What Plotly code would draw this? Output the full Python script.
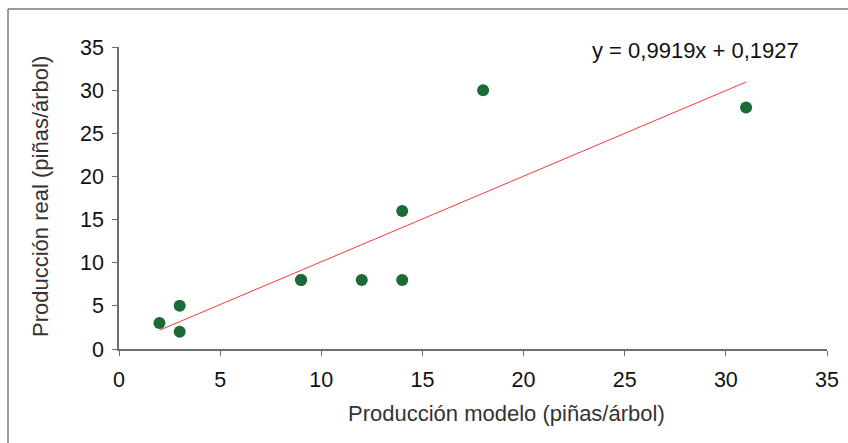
import plotly.graph_objects as go

# Data
modelo = [2, 3, 3, 9, 9, 12, 14, 14, 18, 31]
real = [3, 5, 2, 8, 8, 8, 16, 8, 30, 28]
slope = 0.9919
intercept = 0.1927
x_ticks = [0, 5, 10, 15, 20, 25, 30, 35]
y_ticks = [0, 5, 10, 15, 20, 25, 30, 35]
x_title = "Producción modelo (piñas/árbol)"
y_title = "Producción real (piñas/árbol)"
equation = "y = 0,9919x + 0,1927"

trend_x = [min(modelo), max(modelo)]
trend_y = [slope * v + intercept for v in trend_x]

W, H = 848, 443
ml, mr, mt, mb = 119, 21, 47, 94
pw, ph = W - ml - mr, H - mt - mb
FONT = "Liberation Sans, Arial, sans-serif"

fig = go.Figure()
fig.add_trace(go.Scatter(x=trend_x, y=trend_y, mode="lines",
                         line=dict(color="#f23a3a", width=1), hoverinfo="skip"))
fig.add_trace(go.Scatter(x=modelo, y=real, mode="markers",
                         marker=dict(color="#1a6b35", size=12, line=dict(width=0))))

fig.add_annotation(x=28.5, y=34.6, xref="x", yref="y", showarrow=False,
                   text=equation, font=dict(size=22, color="#111111", family=FONT))

# axis titles as annotations (positioned like the reference)
fig.add_annotation(x=(506 - ml) / pw, y=(349 - 413) / ph, xref="paper", yref="paper",
                   showarrow=False, text=x_title, xanchor="center", yanchor="middle",
                   font=dict(size=22, color="#333333", family=FONT))
fig.add_annotation(x=(40 - ml) / pw, y=(349 - 197) / ph, xref="paper", yref="paper",
                   showarrow=False, text=y_title, textangle=-90, xanchor="center", yanchor="middle",
                   font=dict(size=22, color="#333333", family=FONT))

# partial frame (top and left border lines)
fx = (8 - ml) / pw
fy = 1 + (mt - 9) / ph
fig.add_shape(type="line", xref="paper", yref="paper", x0=fx, x1=1 + mr / pw + 0.01, y0=fy, y1=fy,
              line=dict(color="#7a7a7a", width=1.5))
fig.add_shape(type="line", xref="paper", yref="paper", x0=fx, x1=fx, y0=fy, y1=-mb / ph - 0.01,
              line=dict(color="#7a7a7a", width=1.5))

axis_common = dict(showgrid=False, zeroline=False, showline=True, linecolor="#6e6e6e",
                   linewidth=1.5, ticks="outside", ticklen=5, tickcolor="#6e6e6e",
                   tickwidth=1, tickfont=dict(size=21.5, color="#111111"), automargin=False)
fig.update_xaxes(range=[0, 35], tickvals=x_ticks, ticklabelstandoff=5, **axis_common)
fig.update_yaxes(range=[0, 35], tickvals=y_ticks, ticklabelstandoff=4, **axis_common)

fig.update_layout(width=W, height=H, margin=dict(l=ml, r=mr, t=mt, b=mb, autoexpand=False),
                  plot_bgcolor="white", paper_bgcolor="white", showlegend=False,
                  font=dict(family=FONT))

fig.write_html("out.html", config={"displayModeBar": False},
               post_script="document.body.style.margin='0';document.body.style.overflow='hidden';")
